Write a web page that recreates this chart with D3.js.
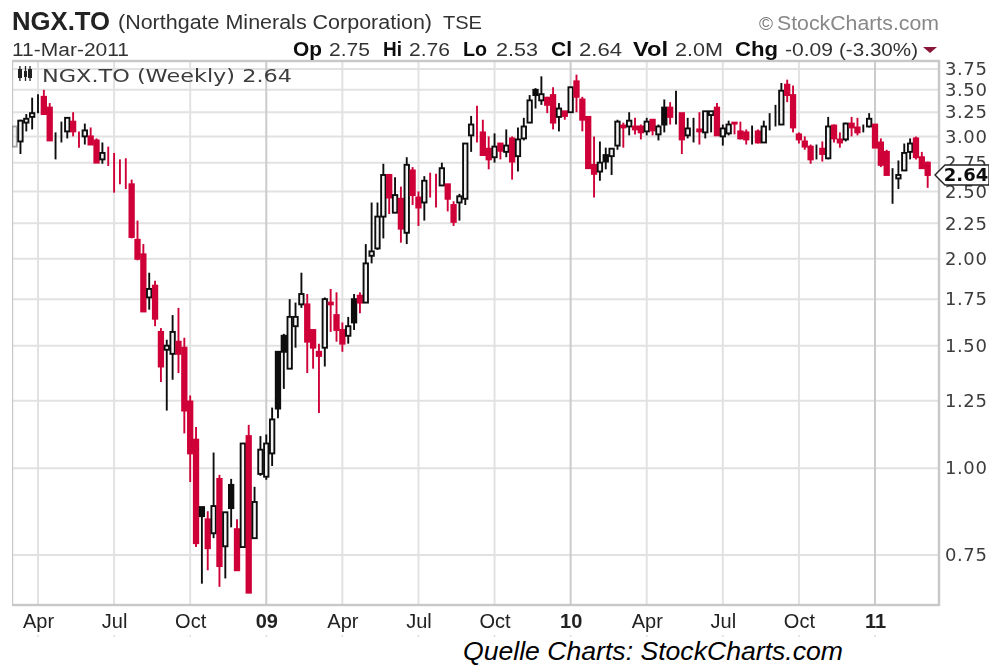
<!DOCTYPE html>
<html>
<head>
<meta charset="utf-8">
<script src="https://cdn.jsdelivr.net/npm/d3@7/dist/d3.min.js"></script>
<style>
  html, body { margin: 0; padding: 0; background: #fff; }
  text { font-family: "Liberation Sans", Arial, sans-serif; }
  .mono { font-family: "DejaVu Sans", Verdana, sans-serif; }
</style>
</head>
<body>
<div id="chart"></div>
<script>
// weekly candles (week 0 is the cut off one at the left edge)
const opens = [
  2.90,2.95,3.14,3.20,3.33,3.42,3.30,3.02,3.04,3.05,
  3.15,3.01,3.00,3.00,2.96,2.78,2.83,2.78,2.70,2.70,
  2.56,2.13,2.03,1.76,1.83,1.57,1.48,1.46,1.52,1.49,
  1.247,1.099,.879,.844,.806,.965,.772,.946,.817,.77,
  1.112,.793,.981,.972,1.05,1.47,1.55,1.39,1.60,1.72,
  1.72,1.58,1.47,1.49,1.73,1.66,1.58,1.55,1.75,1.77,
  1.73,2.02,2.07,2.30,2.64,2.33,2.44,2.18,2.68,2.45,
  2.41,2.55,2.56,2.55,2.56,2.39,2.41,2.44,3.01,3.12,
  3.04,2.88,2.80,2.93,2.85,2.98,2.81,2.98,3.14,3.50,
  3.38,3.41,3.44,3.20,3.26,3.25,3.60,3.39,3.20,2.73,
  2.67,2.82,2.81,2.91,3.11,3.10,3.10,3.10,3.05,3.17,
  3.02,3.30,3.30,3.24,3.24,3.01,3.09,3.07,3.04,3.22,
  3.30,3.00,3.03,3.14,3.05,3.04,2.98,3.05,2.94,3.14,
  3.17,3.12,3.56,3.44,3.02,2.95,2.90,2.87,2.88,2.79,
  3.11,2.97,2.97,3.13,3.09,3.06,3.10,3.12,2.94,2.85,
  2.64,2.61,2.68,2.85,2.98,2.80,2.75];
const highs = [
  3.10,3.17,3.23,3.41,3.45,3.50,3.35,3.04,3.15,3.19,
  3.25,3.05,3.13,3.09,2.98,2.94,2.90,2.84,2.78,2.79,
  2.60,2.27,2.10,1.91,1.86,1.59,1.53,1.66,1.70,1.54,
  1.272,1.146,.879,.867,1.053,.978,.864,.965,.844,1.085,
  1.154,.94,1.112,1.118,1.222,1.47,1.56,1.75,1.73,1.91,
  1.78,1.58,1.51,1.76,1.81,1.79,1.62,1.65,1.78,1.79,
  2.10,2.41,2.41,2.74,2.65,2.62,2.54,2.80,2.71,2.50,
  2.63,2.66,2.65,2.75,2.56,2.42,2.48,2.93,3.21,3.32,
  3.17,3.00,3.03,2.93,3.07,3.00,3.09,3.19,3.44,3.52,
  3.66,3.42,3.53,3.35,3.26,3.53,3.68,3.42,3.20,3.00,
  2.95,2.89,2.88,3.17,3.14,3.25,3.19,3.12,3.19,3.17,
  3.12,3.39,3.36,3.49,3.24,3.19,3.19,3.25,3.26,3.26,
  3.35,3.12,3.16,3.14,3.15,3.07,3.11,3.07,3.16,3.24,
  3.33,3.58,3.62,3.55,3.04,3.00,2.92,2.92,2.95,3.20,
  3.12,3.04,3.14,3.20,3.19,3.12,3.24,3.12,2.98,2.87,
  2.70,2.77,2.93,2.98,3.00,2.85,2.76];
const lows = [
  2.90,2.83,3.05,3.07,3.24,3.22,2.96,2.78,2.94,2.98,
  3.00,2.89,2.92,2.92,2.75,2.74,2.72,2.49,2.56,2.52,
  2.14,1.99,1.68,1.69,1.60,1.33,1.21,1.34,1.37,1.122,
  .955,.77,.682,.713,.793,.675,.694,.822,.713,.77,
  .662,.793,.975,.962,1.007,1.18,1.30,1.39,1.49,1.70,
  1.37,1.39,1.20,1.40,1.57,1.52,1.47,1.51,1.58,1.67,
  1.73,1.97,2.06,2.14,2.32,2.33,2.11,2.10,2.39,2.23,
  2.27,2.45,2.37,2.55,2.34,2.23,2.27,2.39,2.85,2.94,
  2.82,2.69,2.75,2.78,2.80,2.60,2.67,2.96,3.14,3.29,
  3.33,3.24,3.07,3.05,3.17,3.25,3.25,3.05,2.70,2.45,
  2.59,2.69,2.64,2.87,2.89,3.01,3.02,2.97,3.01,3.01,
  2.96,3.04,3.12,3.12,2.83,2.98,2.94,2.92,2.98,3.04,
  3.01,2.91,3.01,3.02,2.97,2.92,2.92,2.93,2.94,3.06,
  3.10,3.12,3.36,3.04,2.93,2.87,2.74,2.78,2.76,2.78,
  2.94,2.89,2.95,3.00,3.01,3.04,3.09,2.89,2.71,2.64,
  2.40,2.52,2.68,2.78,2.78,2.70,2.53];
const closes = [
  3.10,3.16,3.18,3.24,3.33,3.23,2.96,3.02,3.04,3.19,
  3.05,3.01,3.06,2.92,2.75,2.84,2.83,2.78,2.70,2.70,
  2.15,2.00,1.68,1.81,1.64,1.40,1.50,1.57,1.46,1.21,
  1.05,.78,.853,.767,.882,.723,.864,.876,.713,1.085,
  .662,.894,1.063,1.085,1.175,1.218,1.47,1.65,1.65,1.78,
  1.52,1.49,1.45,1.75,1.72,1.58,1.51,1.60,1.62,1.73,
  1.97,2.05,2.30,2.64,2.45,2.47,2.21,2.73,2.47,2.37,
  2.59,2.55,2.56,2.70,2.44,2.26,2.46,2.93,3.12,3.12,
  2.82,2.78,2.90,2.86,2.91,2.76,2.97,3.10,3.38,3.44,
  3.45,3.33,3.14,3.29,3.21,3.53,3.42,3.17,2.70,2.65,
  2.75,2.76,2.88,3.15,3.09,3.16,3.07,3.04,3.15,3.06,
  3.10,3.12,3.20,3.24,2.97,3.08,3.09,3.05,3.26,3.26,
  3.01,3.08,3.12,3.13,2.98,2.97,2.98,2.94,3.10,3.14,
  3.17,3.49,3.44,3.09,2.97,2.90,2.78,2.87,2.83,3.10,
  2.98,2.94,3.13,3.09,3.04,3.06,3.18,2.89,2.73,2.64,
  2.64,2.64,2.84,2.93,2.80,2.70,2.64];
// k = black candle, r = red candle (close under the previous close)
const candleColors = (
  "kkkkkrrkkk" + "rrkrrkrrrr" + "rrrkrrkkrr" + "rrkrkrkkrk" +
  "rkkkkkkkkk" + "rrrkrrrkkr" + "kkkkrkrkrr" + "krrkrrkkkr" +
  "rrkrkrkkkk" + "krrkrkrrrr" + "kkkkrkrrkr" + "kkrkrkkrkk" +
  "rkkrrrkrkk" + "kkrrrrrkrk" + "rrkrrkkrrr" + "kkkkrrr").split("");

const yTicks = [3.75, 3.5, 3.25, 3, 2.75, 2.5, 2.25, 2, 1.75, 1.5, 1.25, 1, 0.75];
const tickWeeks = [4, 17, 30, 43, 56, 69, 82, 95, 108, 121, 134, 147];
const tickLabels = ["Apr", "Jul", "Oct", "09", "Apr", "Jul", "Oct", "10", "Apr", "Jul", "Oct", "11"];
const yearWeeks = [43, 95, 147];
const quoteNames = ["Op", "Hi", "Lo", "Cl", "Vol", "Chg"];
const quoteValues = ["2.75", "2.76", "2.53", "2.64", "2.0M", "-0.09"];

const RED = "#cf0538", INK = "#111", GRID = "#e2e2e2", YEARGRID = "#cbcbcb", FRAME = "#c8c8c8";
const W = 991, H = 666;
const plot = {left: 12, right: 939, top: 61, bottom: 605};
const quoteNameX = [[293, 29], [383, 19], [463, 24], [551, 21], [633, 35], [735, 43]];
const quoteValueX = [[329, 41], [409, 41], [496, 42], [579, 43], [675, 48], [785, 48]];

const svg = d3.select("#chart").append("svg")
  .attr("width", W).attr("height", H)
  .style("display", "block");

// the reference is a soft upscaled image, a small blur gets the same look
svg.append("defs").append("filter").attr("id", "soft")
  .attr("x", 0).attr("y", 0).attr("width", "100%").attr("height", "100%")
  .append("feGaussianBlur").attr("stdDeviation", 0.55);

const root = svg.append("g").attr("filter", "url(#soft)");

const x = d3.scaleLinear().domain([4, 147]).range([38, 875]);
const y = d3.scaleLog().domain([0.75, 3.75]).range([555, 69]);

// Grid
root.append("g").selectAll("line").data(yTicks).join("line")
  .attr("x1", plot.left).attr("x2", plot.right)
  .attr("y1", d => y(d)).attr("y2", d => y(d))
  .attr("stroke", GRID).attr("stroke-width", 2);

root.append("g").selectAll("line").data(tickWeeks).join("line")
  .attr("x1", d => x(d)).attr("x2", d => x(d))
  .attr("y1", plot.top).attr("y2", plot.bottom)
  .attr("stroke", d => yearWeeks.includes(d) ? YEARGRID : GRID)
  .attr("stroke-width", 2);

// Frame
root.append("rect")
  .attr("x", plot.left).attr("y", plot.top)
  .attr("width", plot.right - plot.left).attr("height", plot.bottom - plot.top)
  .attr("fill", "none").attr("stroke", FRAME).attr("stroke-width", 2.4);

// Candles
const weeks = d3.range(opens.length);
const candles = root.append("g").selectAll("g").data(weeks).join("g")
  .attr("opacity", d => d === 0 ? 0.35 : 1);

candles.append("line")
  .attr("x1", d => x(d)).attr("x2", d => x(d))
  .attr("y1", d => y(highs[d])).attr("y2", d => y(lows[d]))
  .attr("stroke", d => candleColors[d] === "r" ? RED : INK)
  .attr("stroke-width", 1.9);

candles.append("rect")
  .attr("x", d => x(d) - 2.2)
  .attr("width", 4.4)
  .attr("y", d => y(Math.max(opens[d], closes[d])))
  .attr("height", d => Math.abs(y(opens[d]) - y(closes[d])))
  .attr("fill", d => closes[d] > opens[d] ? "#f4f4f4" : candleColors[d] === "r" ? RED : INK)
  .attr("stroke", d => candleColors[d] === "r" ? RED : INK)
  .attr("stroke-width", 1.9);

// Y axis
const yAxis = root.append("g")
  .attr("transform", `translate(${plot.right + 5},0)`)
  .call(d3.axisRight(y).tickValues(yTicks).tickSize(0).tickPadding(1).tickFormat(d3.format(".2f")));
yAxis.select(".domain").remove();
yAxis.selectAll("text")
  .attr("class", "mono")
  .style("font-size", "18px")
  .style("letter-spacing", "0.6px")
  .style("fill", "#3c3c3c");

// X axis
const xAxis = root.append("g")
  .attr("transform", `translate(0,${plot.bottom + 6})`)
  .call(d3.axisBottom(x).tickValues(tickWeeks).tickSize(0).tickPadding(3)
    .tickFormat((d, i) => tickLabels[i]));
xAxis.select(".domain").remove();
xAxis.selectAll("text")
  .style("font-size", "20px")
  .style("font-weight", d => yearWeeks.includes(d) ? "bold" : "normal")
  .style("fill", "#222");

// faint ticks below the month labels
root.append("g").selectAll("line").data(tickWeeks).join("line")
  .attr("x1", d => x(d)).attr("x2", d => x(d))
  .attr("y1", 635).attr("y2", 637)
  .attr("stroke", "#ddd").attr("stroke-width", 1.5);

// Header
function label(txt, px, py, size, opts = {}) {
  const t = root.append("text").attr("x", px).attr("y", py)
    .style("font-size", size + "px")
    .style("fill", opts.fill || "#222")
    .text(txt);
  if (opts.bold) t.style("font-weight", "bold");
  if (opts.mono) t.attr("class", "mono");
  if (opts.len) t.attr("textLength", opts.len).attr("lengthAdjust", "spacingAndGlyphs");
  return t;
}

label("NGX.TO", 12, 30, 25, {bold: true, len: 98});
label("(Northgate Minerals Corporation)", 118, 29, 20, {len: 314, fill: "#333"});
label("TSE", 443, 29, 18, {len: 39, fill: "#333"});
label("11-Mar-2011", 12, 56, 18, {len: 117, fill: "#333"});

quoteNames.forEach((name, i) => {
  label(name, quoteNameX[i][0], 56, 20, {bold: true, fill: "#111", len: quoteNameX[i][1]});
  label(quoteValues[i], quoteValueX[i][0], 56, 19, {fill: "#333", len: quoteValueX[i][1]});
});
label("(-3.30%)", 839, 56, 19, {len: 79, fill: "#333"});

root.append("path")
  .attr("d", d3.line()([[923, 47], [937, 47], [930, 53]]) + "Z")
  .attr("fill", "#8a1538");

label("\u00a9", 759, 30, 19, {fill: "#777"});
label("StockCharts.com", 777, 30, 20, {len: 162, fill: "#888"});

// Legend inside the plot
const glyph = root.append("g").attr("transform", "translate(17,66)");
[[1, 3, 4, 9], [7, 5, 3, 6], [11, 3, 4, 9]].forEach(b => {
  glyph.append("rect").attr("x", b[0]).attr("y", b[1]).attr("width", b[2]).attr("height", b[3])
    .attr("fill", "#222");
});
[2.9, 8.5, 13].forEach(gx => {
  glyph.append("line").attr("x1", gx).attr("x2", gx).attr("y1", 0).attr("y2", 15)
    .attr("stroke", "#222").attr("stroke-width", 1.3);
});
label("NGX.TO (Weekly) 2.64", 42, 82, 17, {mono: true, len: 250, fill: "#3c3c3c"});

// Last price tag
const lastY = y(closes[closes.length - 1]);
root.append("path")
  .attr("d", d3.line()([[945, lastY - 10], [989, lastY - 10], [989, lastY + 10], [945, lastY + 10], [935, lastY]]) + "Z")
  .attr("fill", "#fff").attr("stroke", "#222").attr("stroke-width", 1.4);
root.append("text").attr("x", 966).attr("y", lastY + 6.5)
  .attr("class", "mono").attr("text-anchor", "middle")
  .style("font-size", "18px").style("font-weight", "bold").style("fill", "#111")
  .text("2.64");

// Source line
svg.append("text").attr("x", 463).attr("y", 660)
  .attr("textLength", 380).attr("lengthAdjust", "spacingAndGlyphs")
  .style("font-size", "25px").style("font-style", "italic").style("fill", "#000")
  .text("Quelle Charts: StockCharts.com");
</script>
</body>
</html>
